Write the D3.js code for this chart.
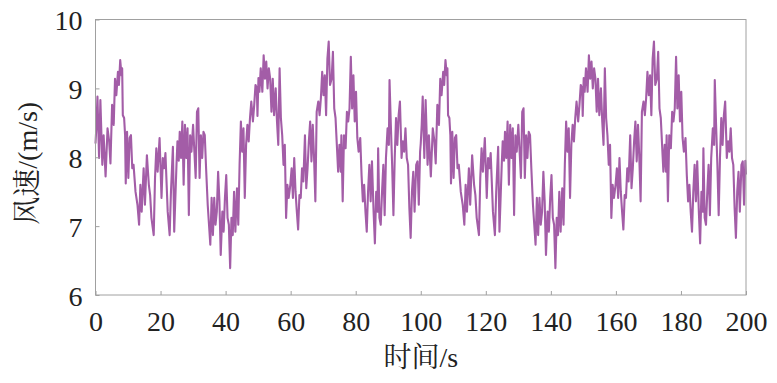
<!DOCTYPE html>
<html>
<head>
<meta charset="utf-8">
<script src="https://cdn.jsdelivr.net/npm/d3@7"></script>
</head>
<body style="margin:0">
<svg id="s" width="777" height="383" font-family="Liberation Serif"></svg>
<script>
// ---- data ----
const xTicks = [0, 20, 40, 60, 80, 100, 120, 140, 160, 180, 200];
const yTicks = [6, 7, 8, 9, 10];
const xLabelParts = [["时间", "cjk"], ["/s", "latin"]];
const yLabelParts = [["风速", "cjk"], ["/(m/s)", "latin"]];

// wind speed, first 100 s: [time s, speed m/s]
const speedFirstHalf = [
[0.0,8.20],[0.3,8.47],[0.6,8.88],[1.1,7.99],[1.5,8.83],[2.1,7.89],[2.5,8.32],[3.1,7.72],[3.7,8.42],[4.2,8.23],
[4.6,7.91],[5.1,8.76],[5.6,8.47],[6.0,9.14],[6.4,8.90],[6.9,9.24],[7.2,9.05],[7.6,9.41],[8.0,9.19],[8.2,9.29],
[8.4,8.61],[8.8,8.57],[9.1,8.32],[9.3,7.62],[9.7,8.37],[10.1,7.70],[10.5,8.28],[10.9,8.32],[11.3,7.84],[11.7,7.89],
[12.3,7.50],[12.9,7.31],[13.4,7.02],[13.8,7.60],[14.2,7.21],[14.8,7.84],[15.2,7.31],[15.8,8.03],[16.4,7.60],[16.8,7.45],
[17.2,7.12],[17.9,6.87],[18.3,7.70],[18.7,8.13],[19.1,7.79],[19.7,8.28],[20.3,7.41],[20.7,7.99],[21.1,7.84],[21.5,8.06],
[22.2,7.21],[22.8,6.87],[23.2,7.50],[23.8,8.15],[24.2,6.92],[24.9,7.89],[25.2,8.23],[25.6,7.95],[25.9,8.37],[26.3,7.99],
[26.7,8.52],[27.1,7.60],[27.5,8.47],[27.9,7.99],[28.3,8.42],[28.7,7.16],[29.1,8.32],[29.5,8.08],[30.0,8.47],[30.4,8.08],
[30.8,7.70],[31.2,8.66],[31.6,8.71],[32.0,7.70],[32.4,8.32],[32.8,7.99],[33.2,8.37],[33.6,8.32],[34.0,7.84],[34.5,7.31],
[34.9,7.02],[35.3,6.73],[35.7,7.41],[36.1,6.87],[36.5,7.41],[36.9,7.02],[37.3,7.21],[37.7,7.79],[38.1,7.36],[38.5,6.58],
[39.0,7.21],[39.4,6.92],[39.8,7.41],[40.2,7.74],[40.6,7.12],[41.0,7.02],[41.4,6.39],[41.8,7.12],[42.2,6.87],[42.6,7.50],
[43.0,6.92],[43.5,7.55],[43.9,7.02],[44.3,7.89],[44.7,8.52],[45.1,8.08],[45.5,8.42],[45.9,7.41],[46.3,8.18],[46.7,8.47],
[47.1,8.23],[47.5,8.57],[47.9,8.81],[48.4,8.52],[48.8,8.76],[49.2,9.05],[49.6,9.00],[49.8,8.60],[50.1,9.15],[50.4,8.95],
[50.8,9.29],[51.3,8.95],[51.7,9.48],[52.1,9.14],[52.5,9.39],[52.9,9.00],[53.3,9.29],[53.7,9.14],[54.1,8.66],[54.5,9.14],
[54.9,8.61],[55.4,9.00],[55.8,8.52],[56.2,8.18],[56.6,9.29],[57.0,8.57],[57.4,8.32],[57.8,7.89],[58.2,8.18],[58.6,7.12],
[59.0,7.60],[59.4,7.41],[59.9,7.60],[60.3,7.84],[60.7,7.41],[61.1,7.99],[61.5,7.50],[61.9,7.21],[62.3,6.95],[62.7,7.45],
[63.1,7.41],[63.5,7.84],[63.9,7.65],[64.4,8.32],[64.8,7.55],[65.2,7.84],[65.6,8.23],[66.0,8.52],[66.4,7.94],[66.8,8.47],
[67.2,7.99],[67.6,7.36],[68.0,8.66],[68.5,8.81],[68.9,8.61],[69.3,8.86],[69.7,9.24],[70.1,8.90],[70.5,9.19],[70.9,8.61],
[71.3,9.43],[71.7,9.68],[72.1,9.05],[72.6,9.14],[73.0,9.53],[73.4,8.71],[73.8,8.57],[74.2,8.18],[74.6,7.79],[75.0,8.18],
[75.4,7.79],[75.6,8.32],[76.0,7.36],[76.4,8.32],[76.9,8.13],[77.3,8.66],[77.7,8.52],[78.1,8.71],[78.5,9.46],[78.9,8.71],
[79.3,9.19],[79.7,8.52],[80.1,8.95],[80.5,8.28],[80.9,8.08],[81.4,8.28],[81.8,7.74],[82.2,7.36],[82.6,7.60],[83.0,7.21],
[83.4,6.92],[83.8,7.50],[84.2,7.89],[84.6,7.36],[85.0,7.94],[85.5,7.21],[85.9,6.75],[86.3,7.50],[86.7,7.21],[86.9,8.13],
[87.3,7.12],[87.7,7.02],[88.1,7.50],[88.5,7.89],[88.9,7.16],[89.3,7.99],[89.8,8.42],[90.2,8.18],[90.4,9.12],[90.8,8.47],
[91.2,7.89],[91.6,7.16],[92.0,7.99],[92.4,8.57],[92.8,8.18],[93.2,8.61],[93.6,8.81],[94.1,7.99],[94.5,8.23],[94.9,8.08],
[95.3,8.42],[95.7,7.99],[96.1,7.89],[96.5,7.26],[96.9,6.83],[97.3,7.50],[97.7,7.79],[98.1,7.21],[98.6,7.89],[99.0,7.94],
[99.4,7.31],[99.8,8.08]
];

// wind speed, second 100 s: [time s, speed m/s]
const speedSecondHalf = [
[100.0,8.20],[100.3,8.47],[100.6,8.88],[101.1,7.99],[101.5,8.83],[102.1,7.89],[102.5,8.32],[103.1,7.72],[103.7,8.42],[104.2,8.23],
[104.6,7.91],[105.1,8.76],[105.6,8.47],[106.0,9.14],[106.4,8.90],[106.9,9.24],[107.2,9.05],[107.6,9.41],[108.0,9.19],[108.2,9.29],
[108.4,8.61],[108.8,8.57],[109.1,8.32],[109.3,7.62],[109.7,8.37],[110.1,7.70],[110.5,8.28],[110.9,8.32],[111.3,7.84],[111.7,7.89],
[112.3,7.50],[112.9,7.31],[113.4,7.02],[113.8,7.60],[114.2,7.21],[114.8,7.84],[115.2,7.31],[115.8,8.03],[116.4,7.60],[116.8,7.45],
[117.2,7.12],[117.9,6.87],[118.3,7.70],[118.7,8.13],[119.1,7.79],[119.7,8.28],[120.3,7.41],[120.7,7.99],[121.1,7.84],[121.5,8.06],
[122.2,7.21],[122.8,6.87],[123.2,7.50],[123.8,8.15],[124.2,6.92],[124.9,7.89],[125.2,8.23],[125.6,7.95],[125.9,8.37],[126.3,7.99],
[126.7,8.52],[127.1,7.60],[127.5,8.47],[127.9,7.99],[128.3,8.42],[128.7,7.16],[129.1,8.32],[129.5,8.08],[130.0,8.47],[130.4,8.08],
[130.8,7.70],[131.2,8.66],[131.6,8.71],[132.0,7.70],[132.4,8.32],[132.8,7.99],[133.2,8.37],[133.6,8.32],[134.0,7.84],[134.5,7.31],
[134.9,7.02],[135.3,6.73],[135.7,7.41],[136.1,6.87],[136.5,7.41],[136.9,7.02],[137.3,7.21],[137.7,7.79],[138.1,7.36],[138.5,6.58],
[139.0,7.21],[139.4,6.92],[139.8,7.41],[140.2,7.74],[140.6,7.12],[141.0,7.02],[141.4,6.39],[141.8,7.12],[142.2,6.87],[142.6,7.50],
[143.0,6.92],[143.5,7.55],[143.9,7.02],[144.3,7.89],[144.7,8.52],[145.1,8.08],[145.5,8.42],[145.9,7.41],[146.3,8.18],[146.7,8.47],
[147.1,8.23],[147.5,8.57],[147.9,8.81],[148.4,8.52],[148.8,8.76],[149.2,9.05],[149.6,9.00],[149.8,8.60],[150.1,9.15],[150.4,8.95],
[150.8,9.29],[151.3,8.95],[151.7,9.48],[152.1,9.14],[152.5,9.39],[152.9,9.00],[153.3,9.29],[153.7,9.14],[154.1,8.66],[154.5,9.14],
[154.9,8.61],[155.4,9.00],[155.8,8.52],[156.2,8.18],[156.6,9.29],[157.0,8.57],[157.4,8.32],[157.8,7.89],[158.2,8.18],[158.6,7.12],
[159.0,7.60],[159.4,7.41],[159.9,7.60],[160.3,7.84],[160.7,7.41],[161.1,7.99],[161.5,7.50],[161.9,7.21],[162.3,6.95],[162.7,7.45],
[163.1,7.41],[163.5,7.84],[163.9,7.65],[164.4,8.32],[164.8,7.55],[165.2,7.84],[165.6,8.23],[166.0,8.52],[166.4,7.94],[166.8,8.47],
[167.2,7.99],[167.6,7.36],[168.0,8.66],[168.5,8.81],[168.9,8.61],[169.3,8.86],[169.7,9.24],[170.1,8.90],[170.5,9.19],[170.9,8.61],
[171.3,9.43],[171.7,9.68],[172.1,9.05],[172.6,9.14],[173.0,9.53],[173.4,8.71],[173.8,8.57],[174.2,8.18],[174.6,7.79],[175.0,8.18],
[175.4,7.79],[175.6,8.32],[176.0,7.36],[176.4,8.32],[176.9,8.13],[177.3,8.66],[177.7,8.52],[178.1,8.71],[178.5,9.46],[178.9,8.71],
[179.3,9.19],[179.7,8.52],[180.1,8.95],[180.5,8.28],[180.9,8.08],[181.4,8.28],[181.8,7.74],[182.2,7.36],[182.6,7.60],[183.0,7.21],
[183.4,6.92],[183.8,7.50],[184.2,7.89],[184.6,7.36],[185.0,7.94],[185.5,7.21],[185.9,6.75],[186.3,7.50],[186.7,7.21],[186.9,8.13],
[187.3,7.12],[187.7,7.02],[188.1,7.50],[188.5,7.89],[188.9,7.16],[189.3,7.99],[189.8,8.42],[190.2,8.18],[190.4,9.12],[190.8,8.47],
[191.2,7.89],[191.6,7.16],[192.0,7.99],[192.4,8.57],[192.8,8.18],[193.2,8.61],[193.6,8.81],[194.1,7.99],[194.5,8.23],[194.9,8.08],
[195.3,8.42],[195.7,7.99],[196.1,7.89],[196.5,7.26],[196.9,6.83],[197.3,7.50],[197.7,7.79],[198.1,7.21],[198.6,7.89],[199.0,7.94],
[199.4,7.31],[199.8,7.95],[200.0,7.75]
];

// ---- drawing ----
const W = 777, H = 383;
const margin = {left: 95.5, right: 31, top: 19.5, bottom: 88};
const svg = d3.select("#s");
const LATIN = "Liberation Serif";
const CJK = "Noto Serif CJK SC";

const x = d3.scaleLinear().domain([0, 200]).range([margin.left, W - margin.right]);
const y = d3.scaleLinear().domain([6, 10]).range([H - margin.bottom, margin.top]);

const axisColor = "#a0a0a0";
const textColor = "#222";

// line
const series = speedFirstHalf.concat(speedSecondHalf);
const line = d3.line().x(d => x(d[0])).y(d => y(d[1]));
svg.append("path")
  .datum(series)
  .attr("d", line)
  .attr("fill", "none")
  .attr("stroke", "#a35da7")
  .attr("stroke-width", 2.1)
  .attr("stroke-linejoin", "round");

// frame
svg.append("rect")
  .attr("x", x(0)).attr("y", y(10))
  .attr("width", x(200) - x(0)).attr("height", y(6) - y(10))
  .attr("fill", "none").attr("stroke", axisColor).attr("stroke-width", 1);

// x axis: ticks inward, labels below
const xAxis = d3.axisBottom(x).tickValues(xTicks).tickFormat(d3.format("d"))
  .tickSizeInner(-4).tickSizeOuter(0);
const gx = svg.append("g").attr("transform", `translate(0,${y(6)})`).call(xAxis);
gx.attr("font-family", LATIN).attr("font-size", 28);
gx.select(".domain").remove();
gx.selectAll(".tick line").attr("stroke", axisColor);
gx.selectAll(".tick text").remove();
gx.selectAll(".tick").append("text")
  .attr("x", 0).attr("y", 36)
  .attr("text-anchor", "middle")
  .attr("fill", textColor)
  .attr("font-family", LATIN)
  .attr("font-size", 28)
  .text(d => d3.format("d")(d));

// y axis: ticks inward, labels left
const yAxis = d3.axisLeft(y).tickValues(yTicks).tickFormat(d3.format("d"))
  .tickSizeInner(-4).tickSizeOuter(0);
const gy = svg.append("g").attr("transform", `translate(${x(0)},0)`).call(yAxis);
gy.attr("font-family", LATIN).attr("font-size", 28);
gy.select(".domain").remove();
gy.selectAll(".tick line").attr("stroke", axisColor);
gy.selectAll(".tick text").remove();
gy.selectAll(".tick").append("text")
  .attr("x", -13).attr("y", 10)
  .attr("text-anchor", "end")
  .attr("fill", textColor)
  .attr("font-family", LATIN)
  .attr("font-size", 28)
  .text(d => d3.format("d")(d));

// axis titles
function addParts(sel, parts) {
  parts.forEach(([t, kind]) => {
    sel.append("tspan")
      .attr("font-family", kind === "cjk" ? CJK : LATIN)
      .text(t);
  });
}
const xt = svg.append("text")
  .attr("x", (x(0) + x(200)) / 2).attr("y", 367)
  .attr("text-anchor", "middle")
  .attr("fill", textColor)
  .attr("font-family", LATIN)
  .attr("font-size", 28);
addParts(xt, xLabelParts);

const yt = svg.append("text")
  .attr("transform", `translate(37,${(y(6) + y(10)) / 2 + 6}) rotate(-90)`)
  .attr("text-anchor", "middle")
  .attr("fill", textColor)
  .attr("font-family", LATIN)
  .attr("font-size", 28);
addParts(yt, yLabelParts);
</script>
</body>
</html>
